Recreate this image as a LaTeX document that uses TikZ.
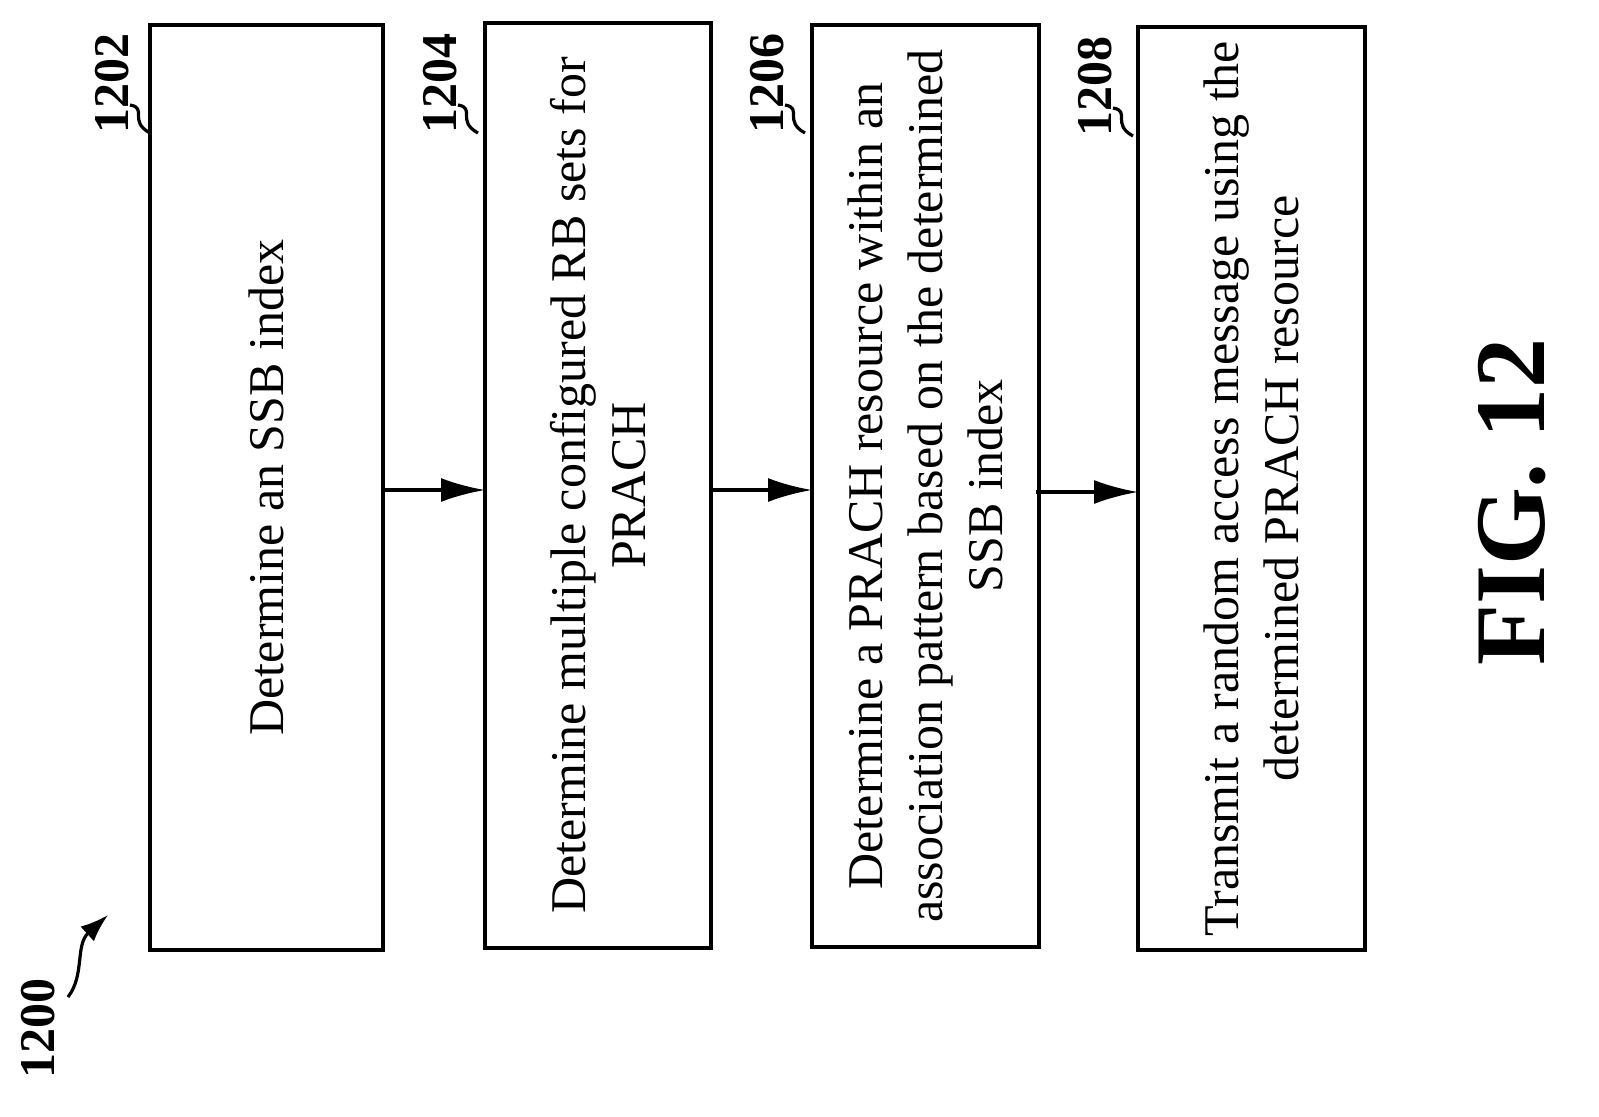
\documentclass[tikz,border=0pt]{standalone}
\usepackage{fontspec}
\setmainfont{Liberation Serif}
\usetikzlibrary{arrows.meta}
\begin{document}
\begin{tikzpicture}[x=0.5pt,y=-0.5pt,
 box/.style={draw,line width=1.6pt},
 txt/.style={rotate=90,align=center,font=\fontsize{25}{30}\selectfont},
 ref/.style={rotate=90,font=\fontsize{25}{26}\selectfont\bfseries},
 arr/.style={line width=1.6pt,-{Latex[length=22pt,width=12pt]}},
 sq/.style={line width=1.6pt}]
\useasboundingbox (0,0) rectangle (1599,1116);
\draw[box] (150,25) rectangle (383,950); \coordinate (b1) at (266.5,487.5);
\draw[box] (485,23) rectangle (711,948); \coordinate (b2) at (598,485.5);
\draw[box] (812,25) rectangle (1039,947); \coordinate (b3) at (925.5,486);
\draw[box] (1138,27) rectangle (1365,950); \coordinate (b4) at (1251.5,488.5);
\node[txt] (t1) at (b1) {Determine an SSB index};
\node[txt] (t2) at (b2) {Determine multiple configured RB sets for\\PRACH};
\node[txt] (t3) at (b3) {Determine a PRACH resource within an\\association pattern based on the determined\\SSB index};
\node[txt] (t4) at (b4) {Transmit a random access message using the\\determined PRACH resource};
\coordinate (a1s) at (383,490); \coordinate (a1e) at (485,490);
\coordinate (a2s) at (711,490); \coordinate (a2e) at (812,490);
\coordinate (a3s) at (1036,492); \coordinate (a3e) at (1138,492);
\draw[arr] (a1s) -- (a1e);
\draw[arr] (a2s) -- (a2e);
\draw[arr] (a3s) -- (a3e);
\node[ref] (r1) at (112,83) {1202};
\node[ref] (r2) at (440,83) {1204};
\node[ref] (r3) at (767,83) {1206};
\node[ref] (r4) at (1095,86) {1208};
\foreach \x/\y in {130/105,458/105,785/105,1113/108}{
 \draw[sq] (\x,\y) .. controls (\x+18,\y+3) and (\x-2,\y+16) .. (\x+20,\y+28);}
\node[ref] (r0) at (38,1028) {1200};
\coordinate (c0) at (68,997); \coordinate (c1) at (108,915);
\draw[line width=1.6pt,-{Latex[length=14pt,width=10pt]}] (c0) .. controls (85,975) and (75,945) .. (c1);
\node[rotate=90,font=\fontsize{50}{56}\selectfont\bfseries] (fig) at (1512,502) {FIG. 12};
\end{tikzpicture}
\end{document}
